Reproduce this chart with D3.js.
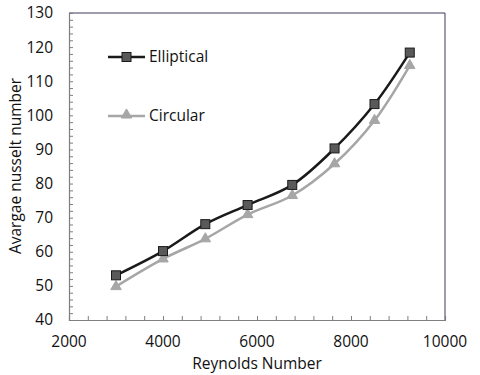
<!DOCTYPE html>
<html>
<head>
<meta charset="utf-8">
<script src="https://cdn.jsdelivr.net/npm/d3@7"></script>
<style>
  body { margin: 0; background: #fff; }
  text { font-family: "Open Sans", sans-serif; fill: #111; }
</style>
</head>
<body>
<div id="chart"></div>
<script>
// data
const reynolds = [3000, 4000, 4900, 5800, 6750, 7650, 8500, 9250];
const elliptical = [53.1, 60.2, 68.1, 73.7, 79.6, 90.3, 103.3, 118.4];
const circular = [49.8, 57.9, 63.8, 70.9, 76.5, 85.8, 98.5, 114.6];
const xTicks = [2000, 4000, 6000, 8000, 10000];
const yTicks = [40, 50, 60, 70, 80, 90, 100, 110, 120, 130];

const width = 480;
const height = 375;
const margin = {left: 69, right: 35, top: 13, bottom: 55};

const svg = d3.select('#chart').append('svg')
  .attr('width', width)
  .attr('height', height);

const x = d3.scaleLinear().domain([2000, 10000]).range([margin.left, width - margin.right]);
const y = d3.scaleLinear().domain([40, 130]).range([height - margin.bottom, margin.top]);

// frame: top and right borders
svg.append('path')
  .attr('d', `M${x(2000)},${y(130)}H${x(10000)}V${y(40)}`)
  .attr('fill', 'none')
  .attr('stroke', '#3a3a5a')
  .attr('stroke-width', 1);

// x axis with inside minor ticks
const xAxis = svg.append('g')
  .attr('transform', `translate(0,${y(40)})`)
  .call(d3.axisBottom(x).tickValues(d3.range(2000, 10001, 400)).tickSize(-4).tickFormat(''));
xAxis.select('.domain').attr('stroke', '#7f7f7f').attr('stroke-width', 1.2);
xAxis.selectAll('.tick line').attr('stroke', '#7f7f7f');

svg.append('g').selectAll('text')
  .data(xTicks)
  .enter().append('text')
    .attr('x', d => x(d))
    .attr('y', y(40) + 22)
    .attr('dy', '0.35em')
    .attr('text-anchor', 'middle')
    .style('font-size', '15.5px')
    .text(d => d);

// y axis with inside minor ticks
const yAxis = svg.append('g')
  .attr('transform', `translate(${x(2000)},0)`)
  .call(d3.axisLeft(y).tickValues(d3.range(40, 131, 2)).tickSize(-4).tickFormat(''));
yAxis.select('.domain').attr('stroke', '#7f7f7f').attr('stroke-width', 1.2);
yAxis.selectAll('.tick line').attr('stroke', '#7f7f7f');

svg.append('g').selectAll('text')
  .data(yTicks)
  .enter().append('text')
    .attr('x', x(2000) - 16)
    .attr('y', d => y(d))
    .attr('dy', '0.35em')
    .attr('text-anchor', 'end')
    .style('font-size', '15.5px')
    .text(d => d);

// axis titles
svg.append('text')
  .attr('x', 257)
  .attr('y', 364)
  .attr('dy', '0.35em')
  .attr('text-anchor', 'middle')
  .style('font-size', '15.5px')
  .text('Reynolds Number');

svg.append('text')
  .attr('transform', 'translate(16,166) rotate(-90)')
  .attr('dy', '0.35em')
  .attr('text-anchor', 'middle')
  .style('font-size', '15.5px')
  .text('Avargae nusselt number');

// series
const line = d3.line()
  .x((d, i) => x(reynolds[i]))
  .y(d => y(d))
  .curve(d3.curveCatmullRom.alpha(0.5));

const triangle = d3.symbol().type(d3.symbolTriangle).size(48);

svg.append('path')
  .datum(circular)
  .attr('d', line)
  .attr('fill', 'none')
  .attr('stroke', '#a6a6a6')
  .attr('stroke-width', 2.5);

svg.append('g').selectAll('path')
  .data(circular)
  .enter().append('path')
    .attr('d', triangle)
    .attr('transform', (d, i) => `translate(${x(reynolds[i])},${y(d)})`)
    .attr('fill', '#a6a6a6')
    .attr('stroke', '#a6a6a6');

svg.append('path')
  .datum(elliptical)
  .attr('d', line)
  .attr('fill', 'none')
  .attr('stroke', '#1a1a1a')
  .attr('stroke-width', 2.5);

svg.append('g').selectAll('rect')
  .data(elliptical)
  .enter().append('rect')
    .attr('x', (d, i) => x(reynolds[i]) - 4.5)
    .attr('y', d => y(d) - 4.5)
    .attr('width', 9)
    .attr('height', 9)
    .attr('fill', '#595959')
    .attr('stroke', '#1a1a1a')
    .attr('stroke-width', 1);

// legend
const legend = svg.append('g');
legend.append('line')
  .attr('x1', 108).attr('x2', 145).attr('y1', 57).attr('y2', 57)
  .attr('stroke', '#1a1a1a').attr('stroke-width', 2.5);
legend.append('rect')
  .attr('x', 122).attr('y', 52.5).attr('width', 9).attr('height', 9)
  .attr('fill', '#595959').attr('stroke', '#1a1a1a');
legend.append('text')
  .attr('x', 149).attr('y', 57).attr('dy', '0.35em')
  .style('font-size', '15.5px')
  .text('Elliptical');

legend.append('line')
  .attr('x1', 108).attr('x2', 145).attr('y1', 116).attr('y2', 116)
  .attr('stroke', '#a6a6a6').attr('stroke-width', 2.5);
legend.append('path')
  .attr('d', triangle)
  .attr('transform', 'translate(126.5,115)')
  .attr('fill', '#a6a6a6').attr('stroke', '#a6a6a6');
legend.append('text')
  .attr('x', 149).attr('y', 116).attr('dy', '0.35em')
  .style('font-size', '15.5px')
  .text('Circular');
</script>
</body>
</html>
